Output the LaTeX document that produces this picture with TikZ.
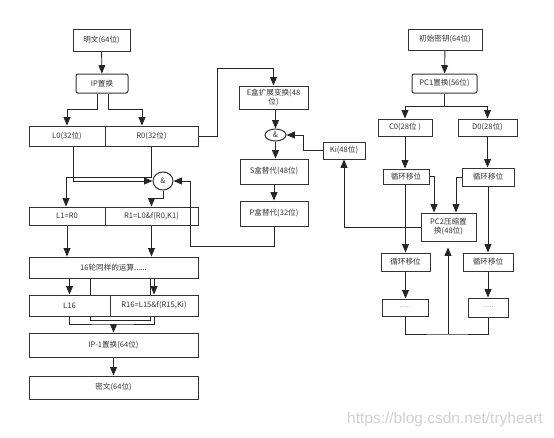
\documentclass[tikz,border=0pt]{standalone}
\usepackage{fontspec}
\setmainfont{Noto Sans CJK SC}
\newfontfamily\markfont{Liberation Sans}
\usetikzlibrary{positioning,shapes,arrows,backgrounds}

\tikzset{
  box/.style={draw=black!80, line width=1, fill=white, inner sep=1pt, align=center,
    text=black!80, font=\fontsize{7.6}{9}\selectfont},
  rbox/.style={box, rounded corners=2},
  andop/.style={box, ellipse, inner sep=0pt},
  dotbox/.style={box, font=\fontsize{6.5}{7}\selectfont, text=black!55},
  line/.style={draw=black!85, line width=0.9},
  link/.style={line, -triangle 45}
}

\begin{document}
\begin{tikzpicture}[x=1pt, y=-1pt]
\useasboundingbox (0,0) rectangle (554,437);

% left column: data path
\node[box, minimum width=57, minimum height=22] (plain) at (101.5,40) {明文(64位)};
\node[rbox, minimum width=52, minimum height=19] (ip) at (102,83.5) {IP置换};
\node[box, minimum width=76, minimum height=20] (l0) at (67,136) {L0(32位)};
\node[box, minimum width=93, minimum height=20] (r0) at (151.5,136) {R0(32位)};
\node[andop, minimum width=20, minimum height=18] (xor1) at (163,181) {\&};
\node[box, minimum width=76, minimum height=18] (l1) at (67,216) {L1=R0};
\node[box, minimum width=93, minimum height=18] (r1) at (151.5,216) {R1=L0\&f(R0,K1)};
\node[box, minimum width=169, minimum height=21] (round16) at (113.5,267.5) {16轮同样的运算......};
\node[box, minimum width=81, minimum height=21] (l16) at (69.5,305.5) {L16};
\node[box, minimum width=88, minimum height=21] (r16) at (154,305.5) {R16=L15\&f(R15,Ki)};
\node[box, minimum width=169, minimum height=24] (ipinv) at (113.5,345) {IP-1置换(64位)};
\node[box, minimum width=169, minimum height=23] (cipher) at (113.5,387.5) {密文(64位)};

% middle column: f function
\node[box, minimum width=69, minimum height=23] (ebox) at (273.5,97.5) {E盒扩展变换(48\\位)};
\node[andop, minimum width=21, minimum height=12] (xor2) at (275.5,135) {\&};
\node[box, minimum width=68, minimum height=25] (sbox) at (274,171.5) {S盒替代(48位)};
\node[box, minimum width=68, minimum height=25] (pbox) at (274,213.5) {P盒替代(32位)};
\node[box, minimum width=42, minimum height=17] (ki) at (344,150.5) {Ki(48位)};

% right column: key schedule
\node[box, minimum width=74, minimum height=21] (key) at (445,39.5) {初始密钥(64位)};
\node[rbox, minimum width=65, minimum height=19] (pc1) at (444.5,83.5) {PC1置换(56位)};
\node[box, minimum width=54, minimum height=17] (c0) at (405,127.5) {C0(28位 )};
\node[box, minimum width=59, minimum height=17] (d0) at (487.5,127.5) {D0(28位)};
\node[box, minimum width=46, minimum height=15] (shl1) at (406,176.5) {循环移位};
\node[box, minimum width=52, minimum height=18] (shr1) at (488,177) {循环移位};
\node[box, minimum width=55, minimum height=28] (pc2) at (448.5,227) {PC2压缩置\\换(48位)};
\node[box, minimum width=49, minimum height=18] (shl2) at (405.5,262) {循环移位};
\node[box, minimum width=50, minimum height=18] (shr2) at (488,262) {循环移位};
\node[dotbox, minimum width=46, minimum height=17] (dotl) at (405,307.5) {......};
\node[dotbox, minimum width=40, minimum height=19] (dotr) at (488,307.5) {......};

\coordinate (ebend) at (217,68);
\coordinate (pback) at (190,246);
\coordinate (swapl) at (90,320);
\coordinate (swapr) at (150,320);
\coordinate (merge) at (113.5,324);
\coordinate (ksplit) at (444.5,106);
\coordinate (kmerge) at (448,334);

\begin{pgfonlayer}{background}
\draw[line] (swapl |- round16.south) -- (swapl) -- (swapr) -- (swapr |- round16.south);
\end{pgfonlayer}

\draw[link] (plain) -- (ip);
\draw[link] ([xshift=-5pt]ip.south) -- ++(0,16) -| (l0.north);
\draw[link] ([xshift=6pt]ip.south) -- ++(0,16) -| ([xshift=-9.5pt]r0.north);
\draw[link] (r0.east) -| (ebend) -| (ebox.north);
\draw[link] ([xshift=6pt]l0.south) |- (xor1.west);
\draw[link] (r0.south) -- ++(0,31) -| ([xshift=-1pt]l1.north);
\draw[link] (xor1.south) -- ++(0,8) -| (r1.north);
\draw[link] (pbox.south) |- (pback) |- (xor1.east);
\draw[link] (l1.south) -- (l1.south |- round16.north);
\draw[link] (r1.south) -- (r1.south |- round16.north);
\draw[link] (l16.north |- round16.south) -- (l16.north);
\draw[link] (r16.north |- round16.south) -- (r16.north);
\draw[line] (l16.south) |- (merge) -| (r16.south);
\draw[link] (merge) -- (ipinv.north);
\draw[link] (ipinv) -- (cipher);

\draw[link] (ebox.south -| xor2.north) -- (xor2.north);
\draw[link] (xor2) -- (xor2 |- sbox.north);
\draw[link] (sbox) -- (pbox);
\draw[link] (ki.west) -- ++(-19,0) |- (xor2.east);
\draw[link] (pc2.west) -| (ki.south);

\draw[link] (key) -- (pc1);
\draw[line] (pc1.south) -- (ksplit);
\draw[link] (ksplit) -| (c0.north);
\draw[link] (ksplit) -| (d0.north);
\draw[link] (c0.south) -- (c0.south |- shl1.north);
\draw[link] (d0.south) -- (d0.south |- shr1.north);
\draw[link] (shl1.east) -| ([xshift=-14.5pt]pc2.north);
\draw[link] (shr1.west) -| ([xshift=7.5pt]pc2.north);
\draw[link] (shl1.south -| shl2.north) -- (shl2.north);
\draw[link] (shr1.south) -- (shr1.south |- shr2.north);
\draw[link] (shl2) -- (shl2 |- dotl.north);
\draw[link] (shr2) -- (shr2 |- dotr.north);
\draw[line] (dotl.south) |- (kmerge) -| (dotr.south);
\draw[link, shorten >=6pt] (kmerge) -- (kmerge |- pc2.south);

% watermark
\node[text=black!18, font=\markfont\fontsize{15.5}{17}\selectfont] (mark) at (445,419) {https://blog.csdn.net/tryheart};
\end{tikzpicture}
\end{document}
